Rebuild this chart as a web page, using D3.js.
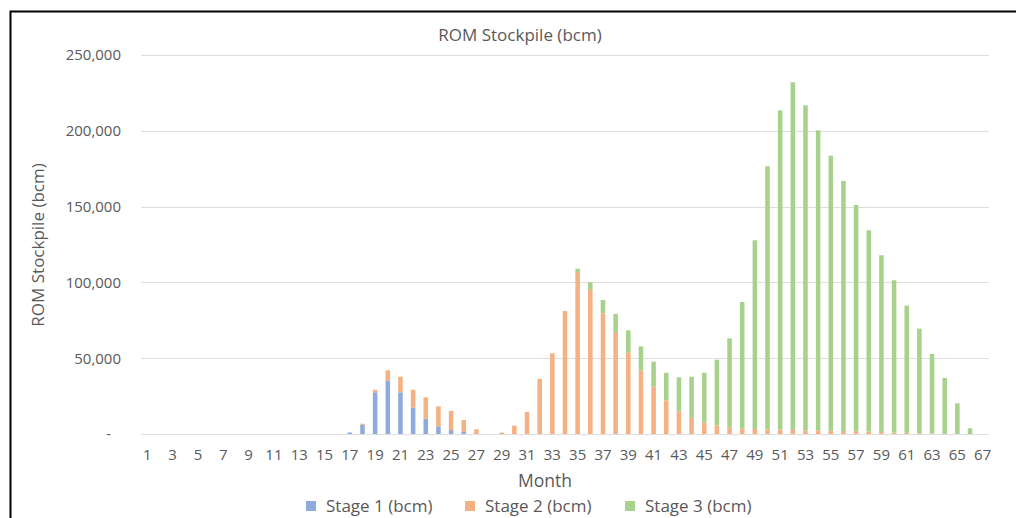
<!DOCTYPE html>
<html><head><meta charset="utf-8">
<script src="https://cdn.jsdelivr.net/npm/d3@7"></script>
<style>
html,body{margin:0;padding:0;background:#fff;}
svg{display:block;font-family:"Open Sans",sans-serif;}
</style></head>
<body>
<svg id="c" width="1016" height="518"></svg>
<script>
const months = d3.range(1, 68);
const stage1 = [0,0,0,0,0,0,0,0,0,0,0,0,0,0,0,0,1000,6000,27500,35000,27500,17400,10100,5100,2600,1300,0,0,0,0,0,0,0,0,0,0,0,0,0,0,0,0,0,0,0,0,0,0,0,0,0,0,0,0,0,0,0,0,0,0,0,0,0,0,0,0,0];
const stage2 = [0,0,0,0,0,0,0,0,0,0,0,0,0,0,0,0,0,800,1700,7000,10300,11800,14100,13200,12600,7900,3100,0,900,5500,14500,36300,53200,81100,106900,95000,79600,66600,53600,42000,31200,22200,15000,10600,7500,5600,4500,3700,3300,3000,3000,2600,2400,2400,2200,2000,1800,1600,1400,1000,800,500,300,0,0,0,0];
const stage3 = [0,0,0,0,0,0,0,0,0,0,0,0,0,0,0,0,0,0,0,0,0,0,0,0,0,0,0,0,0,0,0,0,0,0,2100,5000,8800,12600,14800,15800,16500,18200,22400,27200,32900,43400,58600,83400,124500,173600,210500,229400,214400,197900,181400,164900,149300,132800,116500,100400,83800,69000,52500,36900,20200,3800,0];
const seriesNames = ["Stage 1 (bcm)", "Stage 2 (bcm)", "Stage 3 (bcm)"];
const colors = ["#8FAADC", "#F4B183", "#A9D18E"];
const yTicks = [0, 50000, 100000, 150000, 200000, 250000];

const svg = d3.select("#c");
const M = {l:141, r:1016-989, t:55, b:518-434};
const W = 1016, H = 518;

// frame
svg.append("path").attr("d", `M10.5,${H+5} L10.5,11.5 L${W+5},11.5`)
  .attr("fill","none").attr("stroke","#000").attr("stroke-width",2);

const x = d3.scaleBand().domain(months).range([M.l, W - M.r]).paddingInner(0.64).paddingOuter(0.32);
const y = d3.scaleLinear().domain([0, 250000]).range([H - M.b, M.t]);

// gridlines
svg.append("g").selectAll("line").data(yTicks).join("line")
  .attr("x1", M.l).attr("x2", W - M.r)
  .attr("y1", d => Math.round(y(d)) + 0.5).attr("y2", d => Math.round(y(d)) + 0.5)
  .attr("stroke", "#DEDEDE").attr("stroke-width", 1);

// y axis labels
const yAxis = d3.axisLeft(y).tickValues(yTicks).tickSize(0).tickPadding(20)
  .tickFormat(d => d === 0 ? "-" : d3.format(",")(d));
const ya = svg.append("g").attr("transform", `translate(${M.l},0)`).call(yAxis);
ya.select(".domain").remove();
ya.selectAll("text").attr("fill", "#595959").style("font-size", "15px").style("font-family", '"Open Sans",sans-serif');
ya.selectAll(".tick").filter(d => d === 0).select("text").attr("dx", -10);

// x axis labels
const xAxis = d3.axisBottom(x).tickValues(months.filter(m => m % 2 === 1)).tickSize(0).tickPadding(15);
const xa = svg.append("g").attr("transform", `translate(0,${H - M.b})`).call(xAxis);
xa.select(".domain").remove();
xa.selectAll("text").attr("fill", "#595959").style("font-size", "15px").style("font-family", '"Open Sans",sans-serif');

// stacked bars
const data = months.map((m, i) => ({month: m, s0: stage1[i], s1: stage2[i], s2: stage3[i]}));
const stack = d3.stack().keys(["s0","s1","s2"])(data);
svg.append("g").selectAll("g").data(stack).join("g")
  .attr("fill", (d, i) => colors[i])
  .selectAll("rect").data(d => d).join("rect")
  .attr("x", d => x(d.data.month))
  .attr("width", x.bandwidth())
  .attr("y", d => y(d[1]))
  .attr("height", d => Math.max(0, y(d[0]) - y(d[1])));

// title
svg.append("text").attr("x", 520).attr("y", 41).attr("text-anchor", "middle")
  .attr("fill", "#595959").style("font-size", "17px").text("ROM Stockpile (bcm)");

// axis titles
svg.append("text").attr("x", 545).attr("y", 487).attr("text-anchor", "middle")
  .attr("fill", "#595959").style("font-size", "17.5px").text("Month");
svg.append("text").attr("transform", "translate(44,245) rotate(-90)").attr("text-anchor", "middle")
  .attr("fill", "#595959").style("font-size", "17px").text("ROM Stockpile (bcm)");

// legend
const legX = [306, 465, 625];
const lg = svg.append("g").selectAll("g").data(seriesNames).join("g")
  .attr("transform", (d, i) => `translate(${legX[i]},506)`);
lg.append("rect").attr("x", 0).attr("y", -5).attr("width", 10).attr("height", 10).attr("fill", (d, i) => colors[i]);
lg.append("text").attr("x", 20).attr("y", 6).attr("fill", "#595959").style("font-size", "17px").text(d => d);
</script>
</body></html>
